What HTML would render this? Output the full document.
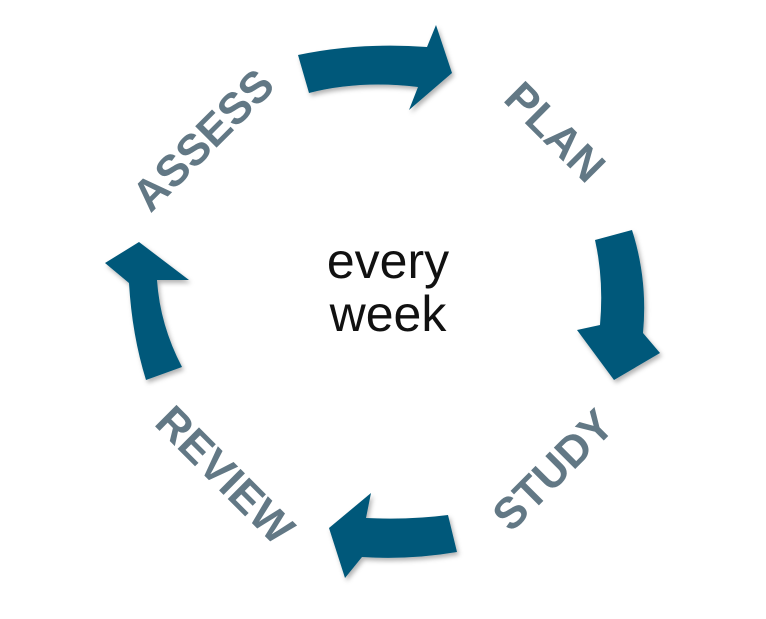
<!DOCTYPE html>
<html><head><style>
body{margin:0;width:766px;height:614px;background:#fff;overflow:hidden}
</style></head><body>
<svg width="766" height="614" viewBox="0 0 766 614" xmlns="http://www.w3.org/2000/svg">
<defs><filter id="s" x="-20%" y="-20%" width="140%" height="140%"><feDropShadow dx="2" dy="3" stdDeviation="2.5" flood-color="#000" flood-opacity="0.3"/></filter></defs>
<g fill="#04587a" filter="url(#s)">
<path d="M298,55 Q360,42 427,47 L436,25 L452,73 L409,110 L418,87 Q360,80 309,93 Z"/>
<path d="M595,240 L632,230 Q648,280 643,333 L660,353 L614,380 L577,330 L600,325 Q604,280 595,240 Z"/>
<path d="M448,515 L457,552 Q410,560 362,557 L345,578 L329,528 L371,493 L366,518 Q410,520 448,515 Z"/>
<path d="M146,380 L182,367 Q160,325 157,280 L189,280 L139,242 L105,263 L129,283 Q132,335 146,380 Z"/>
</g>
<g font-family="Liberation Sans, sans-serif" font-weight="bold" font-size="44" fill="#627885" text-anchor="middle">
<text transform="translate(203,140) rotate(-45)" dy="15">ASSESS</text>
<text transform="translate(555,132) rotate(45)" dy="15">PLAN</text>
<text transform="translate(553,470) rotate(-45)" dy="15">STUDY</text>
<text transform="translate(225,475) rotate(45)" dy="15">REVIEW</text>
</g>
<g font-family="Liberation Sans, sans-serif" font-size="50" fill="#111" text-anchor="middle">
<text x="388" y="278">every</text>
<text x="388" y="331">week</text>
</g>
</svg>
</body></html>
